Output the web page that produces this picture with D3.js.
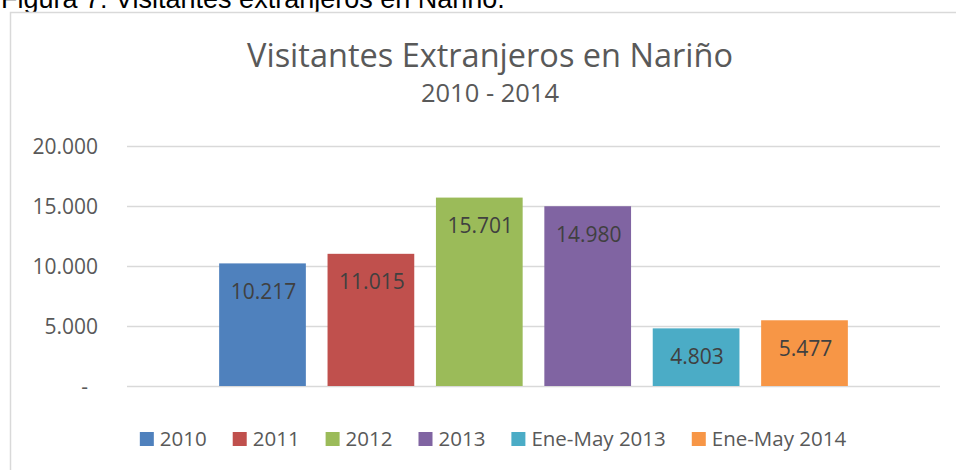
<!DOCTYPE html>
<html>
<head>
<meta charset="utf-8">
<script src="https://cdn.jsdelivr.net/npm/d3@7"></script>
<style>
  body { margin: 0; background: #fff; }
  text { font-family: "Open Sans", sans-serif; }
</style>
</head>
<body>
<svg id="chart" width="956" height="470"></svg>
<script>
// data
const series = ["2010", "2011", "2012", "2013", "Ene-May 2013", "Ene-May 2014"];
const values = [10217, 11015, 15701, 14980, 4803, 5477];
const colors = ["#4f81bd", "#c0504d", "#9bbb59", "#8064a2", "#4bacc6", "#f79646"];
const yTicks = [0, 5000, 10000, 15000, 20000];

const svg = d3.select("#chart");
const plot = { left: 127, right: 940, top: 146, bottom: 386 };

const fmt = d3.formatLocale({ decimal: ",", thousands: ".", grouping: [3], currency: ["$", ""] }).format(",.0f");

// caption above the chart (cut off at the top in the original)
svg.append("text")
  .attr("x", 1)
  .attr("y", 8)
  .attr("font-size", 27)
  .attr("fill", "#000")
  .style("font-family", "'Liberation Sans', Arial, sans-serif")
  .text("Figura 7: Visitantes extranjeros en Nariño.");

// chart frame
svg.append("rect")
  .attr("x", 10.5)
  .attr("y", 12.5)
  .attr("width", 980)
  .attr("height", 480)
  .attr("fill", "#fff")
  .attr("stroke", "#d9d9d9")
  .attr("stroke-width", 1.5);

// titles
svg.append("text")
  .attr("x", 490)
  .attr("y", 67)
  .attr("text-anchor", "middle")
  .attr("font-size", 32.5)
  .attr("fill", "#595959")
  .text("Visitantes Extranjeros en Nariño");

svg.append("text")
  .attr("x", 490)
  .attr("y", 102)
  .attr("text-anchor", "middle")
  .attr("font-size", 25.5)
  .attr("fill", "#595959")
  .text("2010 - 2014");

const x = d3.scaleBand()
  .domain(series)
  .range([plot.left, plot.right])
  .paddingInner(0.2)
  .paddingOuter(0.85);

const y = d3.scaleLinear()
  .domain([0, 20000])
  .range([plot.bottom, plot.top]);

// gridlines + tick labels
const yAxis = svg.append("g")
  .attr("transform", `translate(${plot.left},0)`)
  .call(d3.axisLeft(y)
    .tickValues(yTicks)
    .tickSize(-(plot.right - plot.left))
    .tickPadding(29)
    .tickFormat(d => d === 0 ? "-" : fmt(d)));

yAxis.select(".domain").remove();
yAxis.selectAll(".tick line")
  .attr("stroke", "#d9d9d9")
  .attr("stroke-width", 1.5);
yAxis.selectAll(".tick text")
  .attr("font-size", 21)
  .attr("fill", "#595959")
  .attr("dy", "0.35em")
  .style("font-family", "'Open Sans', sans-serif");
yAxis.selectAll(".tick text").filter(d => d === 0).attr("dx", -10);

// bars
const data = series.map((s, i) => ({ name: s, value: values[i], color: colors[i] }));

svg.append("g").selectAll("rect")
  .data(data)
  .enter().append("rect")
  .attr("x", d => x(d.name))
  .attr("y", d => y(d.value))
  .attr("width", x.bandwidth())
  .attr("height", d => y(0) - y(d.value))
  .attr("fill", d => d.color);

// value labels inside the top of each bar
svg.append("g").selectAll("text")
  .data(data)
  .enter().append("text")
  .attr("x", d => x(d.name) + x.bandwidth() / 2 + 1)
  .attr("y", d => y(d.value) + 28)
  .attr("dy", "0.35em")
  .attr("text-anchor", "middle")
  .attr("font-size", 21)
  .attr("fill", "#404040")
  .text(d => fmt(d.value));

// legend, centred under the chart
const legend = svg.append("g");
const sw = 14;

let lx = 0;
data.forEach(d => {
  const item = legend.append("g").attr("transform", `translate(${lx},0)`);
  item.append("rect")
    .attr("x", 0)
    .attr("y", -7)
    .attr("width", sw)
    .attr("height", sw)
    .attr("fill", d.color);
  const t = item.append("text")
    .attr("x", sw + 6)
    .attr("y", 0)
    .attr("dy", "0.35em")
    .attr("font-size", 20.5)
    .attr("fill", "#595959")
    .text(d.name);
  lx += sw + 6 + t.node().getComputedTextLength() + 26;
});
const legendWidth = lx - 26;
legend.attr("transform", `translate(${493 - legendWidth / 2}, 439)`);
</script>
</body>
</html>
